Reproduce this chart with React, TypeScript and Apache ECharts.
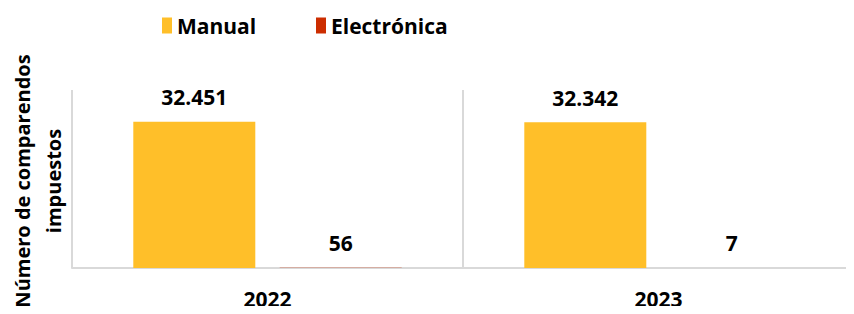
import React, { useEffect, useRef } from "react";
import * as echarts from "echarts";

const categories = ["2022", "2023"];
const seriesNames = ["Manual", "Electrónica"];
const manualValues = [32451, 32342];
const electronicValues = [56, 7];
const colors = ["#FFBF29", "#CC2D00"];
const yAxisTitle = "Número de comparendos\nimpuestos";

const FONT = "'Open Sans', 'Noto Sans', sans-serif";

const fmt = (v: number) => String(v).replace(/\B(?=(\d{3})+(?!\d))/g, ".");

export default function App() {
  const ref = useRef<HTMLDivElement>(null);
  useEffect(() => {
    if (!ref.current) return;
    const chart = echarts.init(ref.current, null, { renderer: "svg" });
    const labelStyle = {
      show: true,
      position: "top" as const,
      distance: 14,
      fontFamily: FONT,
      fontWeight: "bold" as const,
      fontSize: 21,
      color: "#000",
      formatter: (p: any) => fmt(p.value),
    };
    const legendText = {
      fontFamily: FONT,
      fontWeight: "bold" as const,
      fontSize: 21,
      color: "#000",
    };
    chart.setOption({
      animation: false,
      color: colors,
      legend: [
        {
          left: 157,
          top: 10,
          itemWidth: 10,
          itemHeight: 16,
          icon: "rect",
          data: [seriesNames[0]],
          textStyle: legendText,
        },
        {
          left: 311,
          top: 10,
          itemWidth: 10,
          itemHeight: 16,
          icon: "rect",
          data: [seriesNames[1]],
          textStyle: legendText,
        },
      ],
      grid: { left: 72, right: -1, top: 90, bottom: 46 },
      xAxis: {
        type: "category",
        data: categories,
        axisLine: { show: true, lineStyle: { color: "#d9d9d9", width: 2 } },
        axisTick: { show: false },
        splitLine: { show: true, lineStyle: { color: "#d9d9d9", width: 2 } },
        axisLabel: {
          fontFamily: FONT,
          fontWeight: "bold",
          fontSize: 21,
          color: "#000",
          margin: 20,
        },
      },
      yAxis: {
        type: "value",
        min: 0,
        max: 39500,
        show: false,
        splitLine: { show: false },
      },
      graphic: [
        {
          type: "text",
          x: 38,
          y: 181,
          rotation: Math.PI / 2,
          style: {
            text: yAxisTitle,
            fontFamily: FONT,
            fontWeight: "bold",
            fontSize: 20,
            lineHeight: 31,
            fill: "#000",
            align: "center",
            verticalAlign: "middle",
          },
        },
      ],
      series: [
        {
          name: seriesNames[0],
          type: "bar",
          data: manualValues,
          barWidth: 122,
          barGap: "20%",
          label: labelStyle,
        },
        {
          name: seriesNames[1],
          type: "bar",
          data: electronicValues,
          barWidth: 122,
          barGap: "20%",
          label: labelStyle,
        },
      ],
    });
    return () => chart.dispose();
  }, []);
  return <div ref={ref} style={{ width: 854, height: 314, margin: -8 }} />;
}
